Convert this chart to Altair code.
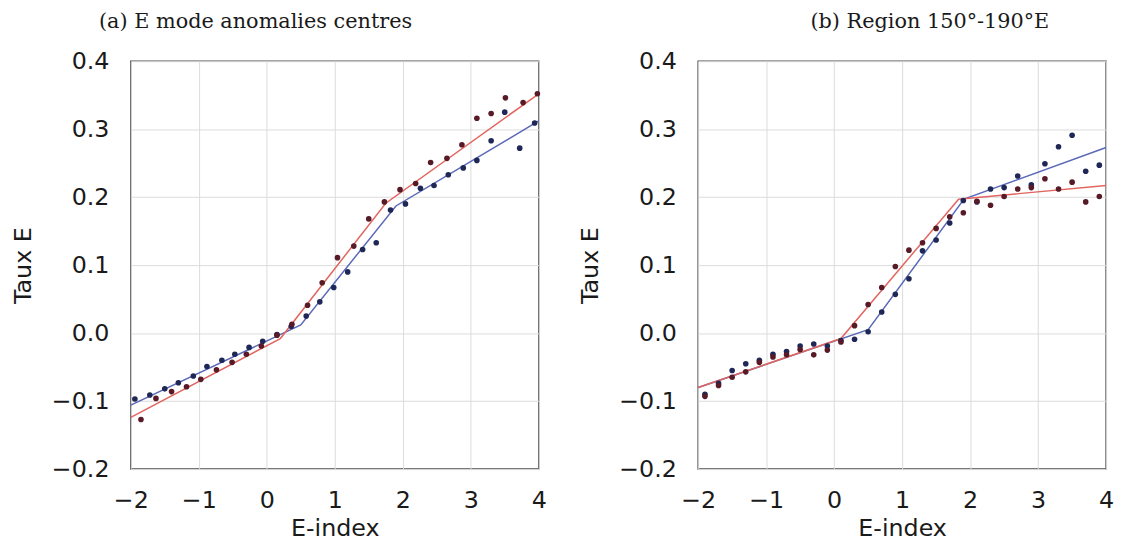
import altair as alt
import pandas as pd

# ---------------- data: panel (a) E mode anomalies centres ----------------
a_blue_x = [-1.94, -1.72, -1.50, -1.30, -1.08, -0.88, -0.66, -0.47, -0.26, -0.06,
            0.15, 0.36, 0.58, 0.78, 0.985, 1.19, 1.41, 1.61, 1.82, 2.04,
            2.26, 2.46, 2.67, 2.89, 3.09, 3.30, 3.50, 3.72, 3.94]
a_blue_y = [-0.097, -0.091, -0.082, -0.073, -0.063, -0.049, -0.040, -0.031, -0.021, -0.012,
            -0.002, 0.010, 0.025, 0.046, 0.067, 0.090, 0.123, 0.133, 0.181, 0.190,
            0.213, 0.217, 0.233, 0.243, 0.254, 0.283, 0.325, 0.272, 0.309]
a_red_x = [-1.85, -1.63, -1.40, -1.18, -0.97, -0.74, -0.51, -0.30, -0.08, 0.15,
           0.37, 0.60, 0.815, 1.04, 1.28, 1.50, 1.73, 1.96, 2.19, 2.41,
           2.65, 2.87, 3.09, 3.30, 3.51, 3.77, 3.98]
a_red_y = [-0.127, -0.096, -0.086, -0.079, -0.068, -0.054, -0.043, -0.031, -0.019, -0.003,
           0.013, 0.041, 0.074, 0.111, 0.128, 0.168, 0.193, 0.211, 0.220, 0.251,
           0.257, 0.277, 0.316, 0.323, 0.346, 0.339, 0.352]
a_blue_fit_x = [-2.0, 0.5, 1.9, 4.0]
a_blue_fit_y = [-0.106, 0.012, 0.187, 0.312]
a_red_fit_x = [-2.0, 0.2, 1.75, 4.0]
a_red_fit_y = [-0.124, -0.008, 0.191, 0.352]

# ---------------- data: panel (b) Region 150-190E ----------------
b_x = [-1.9, -1.7, -1.5, -1.3, -1.1, -0.9, -0.7, -0.5, -0.3, -0.1,
       0.1, 0.3, 0.5, 0.7, 0.9, 1.1, 1.3, 1.5, 1.7, 1.9,
       2.1, 2.3, 2.5, 2.7, 2.9, 3.1, 3.3, 3.5, 3.7, 3.9]
b_blue_y = [-0.090, -0.074, -0.055, -0.045, -0.040, -0.031, -0.027, -0.019, -0.016, -0.019,
            -0.011, -0.009, 0.002, 0.031, 0.057, 0.080, 0.121, 0.137, 0.162, 0.195,
            0.193, 0.212, 0.214, 0.231, 0.218, 0.249, 0.274, 0.291, 0.238, 0.247]
b_red_y = [-0.093, -0.077, -0.065, -0.057, -0.043, -0.035, -0.032, -0.024, -0.032, -0.025,
           -0.013, 0.011, 0.042, 0.067, 0.098, 0.122, 0.133, 0.154, 0.171, 0.177,
           0.194, 0.188, 0.201, 0.212, 0.214, 0.227, 0.212, 0.222, 0.193, 0.201]
b_blue_fit_x = [-2.0, 0.5, 1.91, 4.0]
b_blue_fit_y = [-0.080, 0.005, 0.197, 0.273]
b_red_fit_x = [-2.0, 0.1, 1.83, 4.0]
b_red_fit_y = [-0.080, -0.008, 0.197, 0.217]

x_ticks = [-2, -1, 0, 1, 2, 3, 4]
y_ticks = [-0.2, -0.1, 0.0, 0.1, 0.2, 0.3, 0.4]

BLUE_LINE = "#5a68b8"
RED_LINE = "#e2655f"
BLUE_DOT = "#1e2756"
RED_DOT = "#571a26"


def panel(bx, by, rx, ry, bfx, bfy, rfx, rfy, title, dx):
    xs = alt.Scale(domain=[-2, 4], nice=False, zero=False)
    ys = alt.Scale(domain=[-0.2, 0.4], nice=False, zero=False)
    xenc = alt.X("x:Q", scale=xs,
                 axis=alt.Axis(values=x_ticks, format="d", title="E-index"))
    yenc = alt.Y("y:Q", scale=ys,
                 axis=alt.Axis(values=y_ticks, format=".1f", title="Taux E"))

    blue_fit = alt.Chart(pd.DataFrame({"x": bfx, "y": bfy})).mark_line(
        color=BLUE_LINE, strokeWidth=1.5).encode(x=xenc, y=yenc)
    red_fit = alt.Chart(pd.DataFrame({"x": rfx, "y": rfy})).mark_line(
        color=RED_LINE, strokeWidth=1.5).encode(x=xenc, y=yenc)
    blue_pts = alt.Chart(pd.DataFrame({"x": bx, "y": by})).mark_circle(
        color=BLUE_DOT, size=32, opacity=1).encode(x=xenc, y=yenc)
    red_pts = alt.Chart(pd.DataFrame({"x": rx, "y": ry})).mark_circle(
        color=RED_DOT, size=32, opacity=1).encode(x=xenc, y=yenc)

    return alt.layer(blue_fit, red_fit, blue_pts, red_pts).properties(
        width=412, height=412,
        title=alt.TitleParams(title, dx=dx, frame="group", anchor="middle", offset=17),
    )


pa = panel(a_blue_x, a_blue_y, a_red_x, a_red_y,
           a_blue_fit_x, a_blue_fit_y, a_red_fit_x, a_red_fit_y,
           "(a) E mode anomalies centres", -80)
pb = panel(b_x, b_blue_y, b_x, b_red_y,
           b_blue_fit_x, b_blue_fit_y, b_red_fit_x, b_red_fit_y,
           "(b) Region 150°-190°E", 28)

chart = alt.hconcat(pa, pb, spacing=30).properties(
    padding={"left": 2, "top": 0, "right": 2, "bottom": 2}
).configure_view(
    stroke="#4d4d4d", strokeWidth=1.5
).configure_axis(
    grid=True, gridColor="#dcdcdc", gridWidth=1,
    domain=False, ticks=False, labelFlush=False,
    labelFont="DejaVu Sans", labelFontSize=24, labelColor="#1a1a1a",
    titleFont="DejaVu Sans", titleFontSize=24, titleColor="#1a1a1a", titleFontWeight="normal",
).configure_axisX(
    labelPadding=20, titlePadding=4
).configure_axisY(
    labelPadding=22, titlePadding=16
).configure_title(
    font="DejaVu Serif", fontSize=21, fontWeight="normal", color="#1a1a1a"
)

chart.save("out.html", embed_options={"renderer": "svg", "actions": False})
